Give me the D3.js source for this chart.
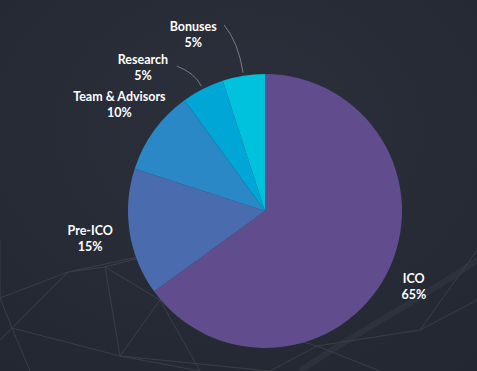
<!DOCTYPE html>
<html><head><meta charset="utf-8">
<script src="https://cdn.jsdelivr.net/npm/d3@7"></script>
<style>
html,body{margin:0;padding:0;background:#272b36;overflow:hidden}
svg{display:block}
text{font-family:Lato,"Open Sans",sans-serif;font-weight:700;fill:#ffffff}
</style></head><body>
<svg id="c" width="477" height="371"></svg>
<script>
// ---- data ----
const categories = ["ICO", "Pre-ICO", "Team & Advisors", "Research", "Bonuses"];
const values = [65, 15, 10, 5, 5];
const colors = ["#614d8d", "#4a6cae", "#2a88c6", "#00a7d6", "#00c2dc"];
const showConnector = [false, false, false, true, true];
// label placement (polar: angle offset in degrees, radius in px)
const labelAngleShift = [0, 0, 0, -13.5, -13.2];
const labelRadius = [167, 177, 180, 188, 190];

const W = 477, H = 371, cx = 265, cy = 211, R = 137;
const svg = d3.select("#c");

// background
const defs = svg.append("defs");
const bg = defs.append("radialGradient").attr("id","bg").attr("cx","0.5").attr("cy","0.35").attr("r","0.8");
bg.append("stop").attr("offset","0%").attr("stop-color","#2b303c");
bg.append("stop").attr("offset","100%").attr("stop-color","#232731");
svg.append("rect").attr("width",W).attr("height",H).attr("fill","url(#bg)");

// faint network decoration
const nodes = [[12,328],[68,272],[105,267],[120,356],[0,298],[-5,345],[30,371],[160,300],[200,371],[170,250],[0,240],[317,346],[270,371],[380,371],[477,300],[477,250],[420,330]];
const links = [[0,1],[0,3],[1,2],[2,3],[0,4],[0,5],[0,6],[2,7],[3,8],[3,7],[1,9],[2,9],[4,10],[1,4],[7,11],[11,12],[11,13],[11,16],[16,14],[16,15],[3,12],[7,8]];
const deco = svg.append("g").attr("stroke","#4a5058").attr("stroke-width",1).attr("opacity",0.55);
links.forEach(([a,b])=>{
  deco.append("line").attr("x1",nodes[a][0]).attr("y1",nodes[a][1]).attr("x2",nodes[b][0]).attr("y2",nodes[b][1]);
});
// soft swoosh bottom-right
svg.append("path").attr("d","M300,371 C360,330 420,300 477,260").attr("fill","none").attr("stroke","#3c424b").attr("stroke-width",6).attr("opacity",0.35);

// pie
const data = categories.map((c,i)=>({name:c, value:values[i], i}));
const pie = d3.pie().value(d=>d.value).sort(null);
const arcs = pie(data);
const arc = d3.arc().innerRadius(0).outerRadius(R);
const g = svg.append("g").attr("transform",`translate(${cx},${cy})`);
g.selectAll("path.slice").data(arcs).join("path").attr("class","slice")
  .attr("d",arc).attr("fill",d=>colors[d.data.i]);

// labels
function polar(a, r){ return [r*Math.sin(a), -r*Math.cos(a)]; }
arcs.forEach(d=>{
  const i = d.data.i;
  const mid = (d.startAngle+d.endAngle)/2;
  const la = mid + labelAngleShift[i]*Math.PI/180;
  const [lx,ly] = polar(la, labelRadius[i]);
  const t = g.append("text").attr("text-anchor","middle").attr("font-size",12.5);
  t.append("tspan").attr("x",lx).attr("y",ly-4).text(d.data.name);
  t.append("tspan").attr("x",lx).attr("y",ly+12).text(d.data.value+"%");
  if (showConnector[i]) {
    const [ex,ey] = polar(mid, R+3);
    const [sx,sy] = [lx + (i===4?31:34), ly - (i===4?10:2)];
    const [qx,qy] = polar(mid, R+ (i===4?34:18));
    g.append("path").attr("d",`M${sx},${sy} Q${qx},${qy} ${ex},${ey}`)
      .attr("fill","none").attr("stroke","#8a8f98").attr("stroke-width",0.8);
  }
});
</script>
</body></html>
